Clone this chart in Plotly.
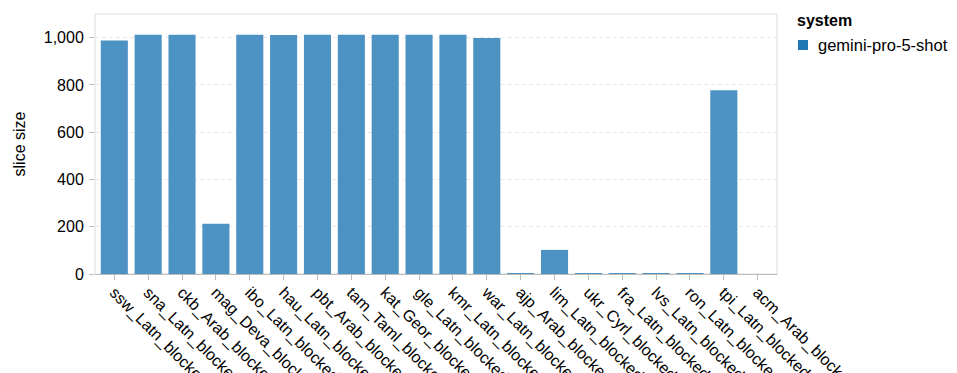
import plotly.graph_objects as go

categories = ["ssw_Latn_blocked", "sna_Latn_blocked", "ckb_Arab_blocked", "mag_Deva_blocked",
              "ibo_Latn_blocked", "hau_Latn_blocked", "pbt_Arab_blocked", "tam_Taml_blocked",
              "kat_Geor_blocked", "gle_Latn_blocked", "kmr_Latn_blocked", "war_Latn_blocked",
              "ajp_Arab_blocked", "lim_Latn_blocked", "ukr_Cyrl_blocked", "fra_Latn_blocked",
              "lvs_Latn_blocked", "ron_Latn_blocked", "tpi_Latn_blocked", "acm_Arab_blocked"]
slice_size = [988, 1012, 1012, 213, 1012, 1011, 1012, 1012, 1012, 1012, 1012, 998,
              1, 102, 1, 4, 1, 3, 777, 0]
system_name = "gemini-pro-5-shot"
legend_title = "system"
y_ticks = [0, 200, 400, 600, 800, 1000]

font = "Liberation Sans, Arial, Helvetica, sans-serif"

# plot-area pixel geometry (for placing the legend)
L, R, T, B = 95, 777, 14, 274
W, H = R - L, B - T


def px_x(p):
    return (p - L) / W


def px_y(p):
    return (B - p) / H


fig = go.Figure()
fig.add_trace(go.Bar(x=categories, y=slice_size, name=system_name,
                     marker=dict(color="#4c92c3", line=dict(width=0)),
                     showlegend=False))

fig.update_layout(
    width=957, height=373,
    margin=dict(l=L, r=957 - R, t=T, b=373 - B, autoexpand=False),
    paper_bgcolor="white", plot_bgcolor="white",
    font=dict(family=font, size=16, color="black"),
    bargap=0.2,
    showlegend=False,
)
fig.update_xaxes(
    type="category", range=[-0.57, len(categories) - 0.43],
    tickangle=45, ticks="outside", ticklen=5, tickcolor="#bbbbbb",
    showline=True, linecolor="#bbbbbb", linewidth=1, mirror=False, showgrid=False,
    tickfont=dict(size=16), automargin=False, ticklabelstandoff=-3,
)
fig.update_yaxes(
    range=[0, 1100], tickvals=y_ticks, tickformat=",", ticks="outside", ticklen=5,
    tickcolor="#bbbbbb", showgrid=True, gridcolor="#e8e8e8", griddash="4px,3px",
    zeroline=False, showline=False,
    title=dict(text="slice size", standoff=14, font=dict(size=16)),
    tickfont=dict(size=16), automargin=False, ticklabelstandoff=2,
)
# frame around plot area
fig.add_shape(type="rect", xref="paper", yref="paper", x0=0, x1=1, y0=0, y1=1,
              line=dict(color="#dddddd", width=1), layer="below")

# legend (drawn as text + swatch)
fig.add_annotation(xref="paper", yref="paper", x=px_x(795), y=px_y(20),
                   xanchor="left", yanchor="middle", showarrow=False,
                   text="<b>" + legend_title + "</b>", font=dict(size=16))
fig.add_shape(type="rect", xref="paper", yref="paper",
              x0=px_x(798), x1=px_x(808), y0=px_y(50), y1=px_y(40),
              fillcolor="#1f77b4", line=dict(width=0))
fig.add_annotation(xref="paper", yref="paper", x=px_x(816), y=px_y(45),
                   xanchor="left", yanchor="middle", showarrow=False,
                   text=system_name, font=dict(size=16.5))

fig.write_html("out.html", config={"displayModeBar": False},
               post_script="document.body.style.margin='0';")
